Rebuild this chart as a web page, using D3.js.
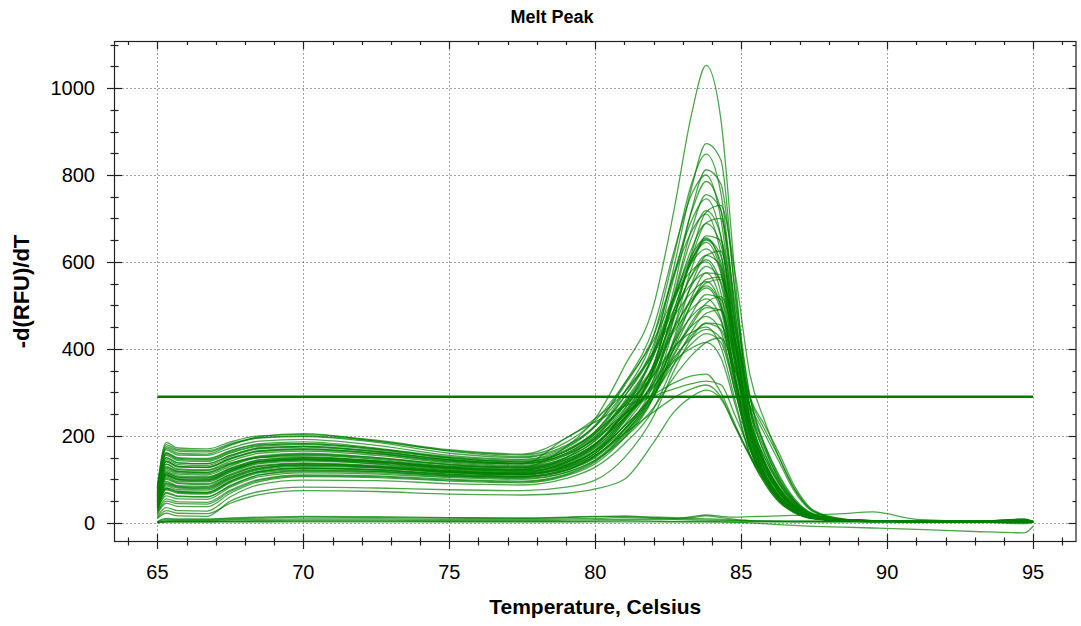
<!DOCTYPE html>
<html>
<head>
<meta charset="utf-8">
<script src="https://cdn.jsdelivr.net/npm/d3@7"></script>
<style>
  body { margin: 0; background: #fff; }
  svg { display: block; font-family: "Liberation Sans", Arial, sans-serif; }
</style>
</head>
<body>
<script>
var temps = [65, 65.3, 65.7, 66.7, 67.5, 68.5, 70, 72.5, 75, 77.5, 79, 80, 81, 82, 82.7,
             83.3, 83.8, 84.3, 84.8, 85.3, 85.8, 86.3, 86.8, 87.5, 88.5, 89.5, 91, 93, 94.7, 95];

// -d(RFU)/dT values of the wells with a melt peak
var peakCurves = [
    [60,135,122,120,138,150,152,142,130,128,175,240,360,500,720,940,1052,930,560,230,110,55,28,12,6,4,4,3,5,2],
    [45,110,100,98,120,140,145,135,120,115,140,180,260,400,590,770,872,835,520,260,140,75,38,14,6,4,3,3,4,2],
    [70,160,148,146,165,180,182,170,150,140,165,210,300,430,615,780,848,760,480,240,135,70,35,13,6,4,4,3,2,2],
    [30,70,62,60,85,110,120,118,108,105,125,160,235,360,540,720,812,780,530,290,175,100,52,18,7,5,4,3,1,3],
    [80,175,165,163,180,195,198,185,160,150,175,225,320,450,625,755,800,700,440,220,120,62,30,11,5,4,3,3,6,2],
    [55,130,118,116,135,152,158,150,135,128,150,190,270,390,565,715,785,720,460,240,140,78,40,14,6,5,4,4,3,2],
    [40,95,85,84,108,130,136,130,118,112,132,168,240,355,525,675,755,720,480,265,160,92,48,17,7,5,4,3,7,3],
    [65,150,138,136,155,172,176,165,145,136,160,205,290,410,575,695,745,660,410,210,115,60,30,11,5,3,3,2,-2,1],
    [35,85,76,75,100,122,130,126,115,110,125,155,215,320,470,620,715,730,570,340,235,150,80,26,8,5,4,4,5,3],
    [75,168,156,155,172,188,192,178,155,146,172,222,315,430,570,670,710,620,390,205,115,60,30,11,5,4,3,3,4,2],
    [50,118,108,106,126,145,150,142,128,122,142,180,255,365,510,630,688,640,420,225,135,75,38,14,6,4,4,3,8,2],
    [25,55,48,47,75,100,110,108,100,96,112,142,205,305,450,585,660,650,460,265,170,100,52,18,7,5,4,4,2,3],
    [60,140,128,127,146,164,168,158,140,132,155,195,275,385,520,615,655,590,380,200,110,58,28,10,5,3,3,3,5,1],
    [45,105,95,94,116,136,142,136,122,116,135,172,245,350,490,600,650,600,400,215,125,68,35,13,6,4,4,3,3,2],
    [68,155,143,141,160,176,180,168,148,140,165,210,290,395,520,605,645,580,370,195,108,56,28,10,5,4,3,2,6,1],
    [20,45,38,37,68,95,106,104,96,92,108,136,196,290,425,550,615,625,450,270,180,110,58,20,8,5,4,4,1,3],
    [58,135,124,122,142,160,165,155,138,130,150,188,262,360,480,568,605,550,360,190,108,58,29,11,5,4,3,3,4,2],
    [42,100,90,88,110,130,136,130,118,112,130,165,232,330,450,545,590,555,380,210,125,70,36,13,6,4,4,3,9,2],
    [78,172,160,158,178,198,205,188,165,152,178,222,300,395,490,550,575,510,330,180,100,52,26,10,5,3,3,3,2,2],
    [35,80,72,70,96,118,126,122,112,107,122,152,212,300,415,505,552,560,440,290,225,160,88,28,9,5,4,4,5,3],
    [52,122,112,110,130,150,155,146,130,124,144,182,250,340,445,515,545,500,340,185,108,58,29,11,5,4,3,3,3,2],
    [28,62,55,54,82,106,115,112,104,100,116,145,205,290,400,480,525,515,370,215,135,80,42,15,6,4,4,3,6,2],
    [66,150,138,136,155,172,176,164,145,137,160,200,270,355,440,492,515,470,315,172,98,52,26,10,5,4,3,3,0,1],
    [47,110,100,98,120,140,146,139,125,119,138,174,238,322,415,475,500,465,320,178,104,56,28,11,5,4,3,3,4,2],
    [15,35,28,27,60,88,98,97,90,87,102,128,182,262,365,440,482,490,370,230,150,90,46,16,6,4,4,3,7,2],
    [56,128,118,116,136,154,160,150,134,127,146,182,242,320,400,452,475,440,305,170,98,52,26,10,5,4,3,3,2,1],
    [38,88,80,78,102,124,132,127,116,111,128,160,216,292,375,432,458,445,330,200,122,70,36,13,6,4,4,3,5,2],
    [72,162,150,148,166,182,186,172,152,144,168,208,268,340,405,438,450,405,280,158,92,48,24,9,5,3,3,3,3,2],
    [44,102,92,90,112,132,138,132,120,114,132,165,222,295,365,412,435,415,300,178,108,60,30,11,5,4,4,3,6,2],
    [30,68,60,59,86,110,118,115,106,102,116,144,195,265,335,385,415,425,350,270,205,140,75,24,8,5,4,4,4,3],
    [62,142,130,128,148,166,170,160,142,135,156,192,248,315,372,402,415,380,270,155,92,48,24,9,5,4,3,3,2,1],
    [85,185,172,170,186,200,203,190,168,158,195,240,300,390,475,530,555,500,330,178,100,52,26,10,5,4,3,3,5,2],
    [50,115,105,103,124,144,150,143,128,122,140,178,250,352,475,570,615,590,405,225,135,74,38,14,6,4,4,3,3,2],
    [34,78,70,68,94,117,125,121,110,106,122,154,215,305,420,520,575,570,410,240,150,88,46,16,6,4,4,3,8,3],
    [40,92,84,82,105,126,133,128,116,111,130,166,238,345,490,605,652,615,415,225,130,70,35,13,6,4,4,3,2,2],
    [48,112,102,100,121,141,147,140,126,120,134,165,222,300,390,462,505,520,420,285,215,150,82,26,8,5,4,4,5,3],
    [10,22,16,15,50,72,82,80,76,74,82,98,150,245,350,425,460,455,350,220,142,82,42,15,6,4,4,3,4,2],
    [38,90,82,80,104,126,134,129,118,113,128,160,225,330,475,610,690,700,500,290,180,105,55,19,7,5,4,3,4,2],
    [64,146,134,132,152,170,174,163,145,137,158,198,280,385,510,598,630,575,375,200,112,60,30,11,5,4,4,3,5,2],
    [22,50,44,43,72,98,108,106,98,94,110,140,200,290,405,505,560,565,420,255,160,95,50,17,7,5,4,3,6,3],
    [70,158,146,144,162,178,182,170,150,142,165,205,275,360,450,510,540,490,320,175,100,54,27,10,5,4,3,3,2,2],
    [33,76,68,66,92,115,122,118,108,104,120,150,208,290,385,455,495,490,360,215,135,80,42,15,6,5,4,3,4,2],
    [54,125,115,113,133,151,157,148,133,126,146,182,240,312,380,425,445,425,300,170,98,55,28,10,5,4,4,3,3,2],
    [46,108,98,96,118,138,144,138,124,118,138,176,252,365,520,655,718,660,420,220,125,68,34,12,5,4,4,3,6,2],
    [82,180,168,166,182,196,200,188,166,156,185,235,320,420,520,580,600,530,330,175,98,52,26,10,5,4,3,3,4,2],
    [50,115,105,103,124,142,148,140,126,122,150,195,250,295,322,338,342,300,225,155,100,60,32,12,5,4,3,3,3,2],
    [62,142,130,128,148,165,170,160,142,136,195,232,268,292,308,320,326,318,245,170,110,66,35,13,6,5,4,3,5,2],
    [35,80,72,70,96,118,126,122,112,107,120,155,205,255,288,308,317,290,220,152,98,58,30,12,5,4,4,3,2,2],
    [12,28,22,21,45,65,74,72,66,64,68,78,100,185,255,290,305,285,220,155,102,62,33,12,5,4,4,3,3,2]
];

// wells with no product, staying near zero
var flatCurves = [
    [2,8,7,7,9,11,13,12,11,10,12,14,16,12,10,14,18,15,13,14,15,16,17,18,21,25,8,4,5,3],
    [1,5,5,5,7,8,9,9,8,8,9,10,12,10,8,7,6,5,5,4,4,4,4,4,4,3,3,3,2,2],
    [0,3,3,3,4,5,6,6,5,5,6,7,8,8,9,12,16,12,8,5,4,3,3,3,3,3,3,3,4,2],
    [0,2,2,2,3,3,4,4,3,3,3,4,5,4,3,3,3,2,1,0,-2,-4,-6,-8,-10,-12,-15,-20,-23,-8],
    [3,10,9,9,11,13,15,14,12,11,13,15,14,13,12,10,9,8,6,5,4,4,3,3,3,3,3,3,2,2],
    [1,2,2,2,2,2,2,2,2,2,2,2,2,2,2,2,2,2,2,2,2,2,2,2,2,2,2,2,2,1]
];

// threshold bar
var thresholdValue = 290;
var thresholdSpan = [65, 95];

// tick labels
var xTickValues = [65, 70, 75, 80, 85, 90, 95];
var yTickValues = [0, 200, 400, 600, 800, 1000];

var chartTitle = "Melt Peak",
    xTitle = "Temperature, Celsius",
    yTitle = "-d(RFU)/dT";

window.onload = drawChart;

function drawChart(){
    var width = 1081, height = 626;
    var plot = { left: 114.5, top: 41.5, right: 1076, bottom: 541.5 };

    var svg = d3.select("body").append("svg")
        .attr("width", width)
        .attr("height", height);

    var x = d3.scaleLinear().domain([63.53, 96.47]).range([plot.left, plot.right]);
    var y = d3.scaleLinear().domain([-43, 1107]).range([plot.bottom, plot.top]);

    svg.append("defs").append("clipPath")
        .attr("id", "plotClip")
        .append("rect")
        .attr("x", plot.left)
        .attr("y", plot.top)
        .attr("width", plot.right - plot.left)
        .attr("height", plot.bottom - plot.top);

    // dotted grid
    var grid = svg.append("g")
        .attr("stroke", "#444")
        .attr("stroke-width", 1)
        .attr("stroke-dasharray", "1,3");

    grid.selectAll(".vgrid")
        .data(xTickValues)
        .enter()
        .append("line")
        .attr("x1", d => Math.round(x(d)) + 0.5)
        .attr("x2", d => Math.round(x(d)) + 0.5)
        .attr("y1", plot.top)
        .attr("y2", plot.bottom);

    grid.selectAll(".hgrid")
        .data(yTickValues)
        .enter()
        .append("line")
        .attr("y1", d => Math.round(y(d)) + 0.5)
        .attr("y2", d => Math.round(y(d)) + 0.5)
        .attr("x1", plot.left)
        .attr("x2", plot.right);

    // melt curves
    var line = d3.line()
        .x((d, i) => x(temps[i]))
        .y(d => y(d))
        .curve(d3.curveMonotoneX);

    var curves = svg.append("g").attr("clip-path", "url(#plotClip)");

    curves.selectAll(".flat")
        .data(flatCurves)
        .enter()
        .append("path")
        .attr("d", line)
        .attr("fill", "none")
        .attr("stroke", "#008000")
        .attr("stroke-opacity", 0.7)
        .attr("stroke-width", 1.3);

    curves.selectAll(".peak")
        .data(peakCurves)
        .enter()
        .append("path")
        .attr("d", line)
        .attr("fill", "none")
        .attr("stroke", "#008000")
        .attr("stroke-opacity", 0.7)
        .attr("stroke-width", 1.3);

    // threshold
    svg.append("line")
        .attr("x1", x(thresholdSpan[0]))
        .attr("x2", x(thresholdSpan[1]))
        .attr("y1", y(thresholdValue))
        .attr("y2", y(thresholdValue))
        .attr("stroke", "#007a00")
        .attr("stroke-width", 2.5);

    // frame
    svg.append("rect")
        .attr("x", plot.left)
        .attr("y", plot.top)
        .attr("width", plot.right - plot.left)
        .attr("height", plot.bottom - plot.top)
        .attr("fill", "none")
        .attr("stroke", "#222")
        .attr("stroke-width", 1.2);

    // ticks: crossing on left/bottom, inward on top/right
    var xMinor = d3.range(64, 97, 1),
        yMinor = d3.range(0, 1101, 50);
    var ticks = svg.append("g").attr("stroke", "#222").attr("stroke-width", 1.2);

    xMinor.forEach(function(t){
        var major = t % 5 === 0;
        var px = Math.round(x(t)) + 0.5;
        var len = major ? 7.5 : 4;
        ticks.append("line")
            .attr("x1", px).attr("x2", px)
            .attr("y1", plot.bottom - len).attr("y2", plot.bottom + len);
        ticks.append("line")
            .attr("x1", px).attr("x2", px)
            .attr("y1", plot.top).attr("y2", plot.top + (major ? 7.5 : 3.5));
    });

    yMinor.forEach(function(t){
        var major = t % 200 === 0;
        var py = Math.round(y(t)) + 0.5;
        var len = major ? 7.5 : 4;
        ticks.append("line")
            .attr("y1", py).attr("y2", py)
            .attr("x1", plot.left - len).attr("x2", plot.left + len);
        ticks.append("line")
            .attr("y1", py).attr("y2", py)
            .attr("x1", plot.right).attr("x2", plot.right - (major ? 7.5 : 3.5));
    });

    // tick labels
    svg.selectAll(".xlab")
        .data(xTickValues)
        .enter()
        .append("text")
        .attr("x", d => x(d))
        .attr("y", 579)
        .attr("text-anchor", "middle")
        .attr("font-size", "20px")
        .attr("fill", "#000")
        .text(d => d);

    svg.selectAll(".ylab")
        .data(yTickValues)
        .enter()
        .append("text")
        .attr("x", 95)
        .attr("y", d => y(d) + 7)
        .attr("text-anchor", "end")
        .attr("font-size", "20px")
        .attr("fill", "#000")
        .text(d => d);

    // titles
    svg.append("text")
        .attr("x", 552)
        .attr("y", 23)
        .attr("text-anchor", "middle")
        .attr("font-size", "18px")
        .attr("font-weight", "bold")
        .text(chartTitle);

    svg.append("text")
        .attr("x", (plot.left + plot.right) / 2)
        .attr("y", 614)
        .attr("text-anchor", "middle")
        .attr("font-size", "21px")
        .attr("font-weight", "bold")
        .text(xTitle);

    svg.append("text")
        .attr("transform", "translate(29," + ((plot.top + plot.bottom) / 2) + ") rotate(-90)")
        .attr("text-anchor", "middle")
        .attr("font-size", "22px")
        .attr("font-weight", "bold")
        .text(yTitle);
}
</script>
</body>
</html>
